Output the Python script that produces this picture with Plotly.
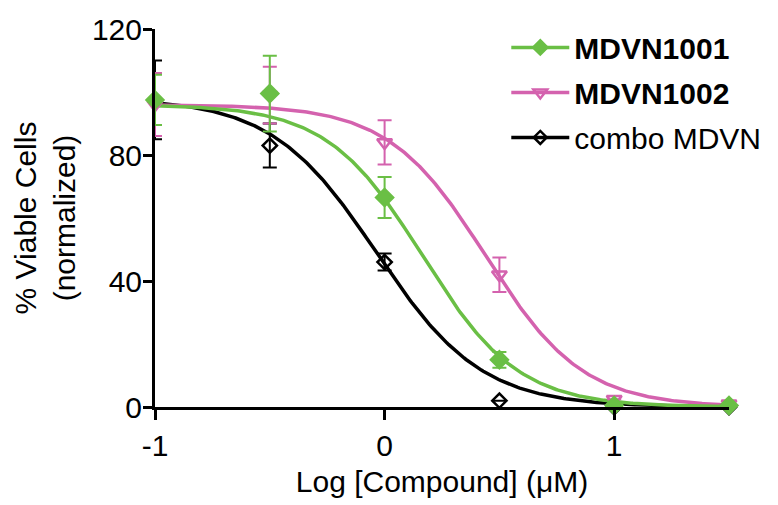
import numpy as np
import plotly.graph_objects as go

# ---- data ----
log_conc = [-1.0, -0.5, 0.0, 0.5, 1.0, 1.5]

mdvn1001 = [97.5, 99.5, 66.5, 15.0, 0.5, 0.5]
mdvn1001_err = [8.0, 12.0, 6.5, 2.5, 0.0, 0.0]

mdvn1002 = [96.0, 99.0, 84.0, 42.0, 2.5, 1.0]
mdvn1002_err = [10.0, 9.0, 7.0, 5.5, 0.0, 0.0]

combo = [97.5, 83.0, 46.0, 2.0, 0.0, 0.0]
combo_err = [12.5, 7.0, 2.7, 0.0, 0.0, 0.0]

# fitted 4PL parameters (top, bottom, logIC50, hill slope)
fit_1001 = dict(top=96.0, bottom=0.0, logic50=0.165, hill=2.08)
fit_1002 = dict(top=96.0, bottom=0.0, logic50=0.44, hill=2.05)
fit_combo = dict(top=98.0, bottom=0.0, logic50=-0.035, hill=1.9)

x_ticks = [-1, 0, 1]
y_ticks = [0, 40, 80, 120]

GREEN = "#6abf45"
PINK = "#d462ae"
BLACK = "#000000"


def curve(p, xs):
    return p["bottom"] + (p["top"] - p["bottom"]) / (1 + 10 ** ((xs - p["logic50"]) * p["hill"]))


xs = np.linspace(-1, 1.5, 300)

fig = go.Figure()

series = [
    ("combo MDVN", combo, combo_err, fit_combo, BLACK, "diamond-open", 11, 10),
    ("<b>MDVN1002</b>", mdvn1002, mdvn1002_err, fit_1002, PINK, "triangle-down-open", 13, 12),
    ("<b>MDVN1001</b>", mdvn1001, mdvn1001_err, fit_1001, GREEN, "diamond", 13, 11),
]

# curves
for name, ys, es, p, col, sym, sz, lsz in series:
    fig.add_trace(go.Scatter(x=xs, y=curve(p, xs), mode="lines",
                             line=dict(color=col, width=3.5),
                             showlegend=False, hoverinfo="skip", cliponaxis=False))

# points with error bars
for name, ys, es, p, col, sym, sz, lsz in series:
    fig.add_trace(go.Scatter(
        x=log_conc, y=ys, mode="markers",
        marker=dict(symbol=sym, size=sz, color=col, line=dict(color=col, width=2.5)),
        error_y=dict(type="data", array=es, visible=True, color=col, thickness=2, width=7),
        showlegend=False, cliponaxis=False))

# legend entries
legend_order = [series[2], series[1], series[0]]
for i, (name, ys, es, p, col, sym, sz, lsz) in enumerate(legend_order):
    fig.add_trace(go.Scatter(
        x=[None], y=[None], mode="lines+markers", name=name,
        line=dict(color=col, width=3.5),
        marker=dict(symbol=sym, size=lsz, color=col, line=dict(color=col, width=2.5)),
        legendgroup=f"g{i}", legendrank=i + 1))

fig.update_layout(
    width=778, height=505,
    margin=dict(l=155, r=44, t=25, b=97),
    plot_bgcolor="white", paper_bgcolor="white",
    font=dict(family="Liberation Sans, Arial, sans-serif", color="black", size=30),
    legend=dict(x=0.612, y=1.02, xanchor="left", yanchor="top",
                font=dict(size=30, color="black"), itemwidth=58,
                tracegroupgap=3, bgcolor="rgba(0,0,0,0)"),
    xaxis=dict(range=[-1, 1.5], tickvals=x_ticks, ticktext=[str(v) for v in x_ticks],
               showgrid=False, zeroline=False, showline=True, linecolor="black", linewidth=3,
               ticks="outside", ticklen=10, tickwidth=3, tickcolor="black",
               tickfont=dict(size=30),
               title=dict(text="Log [Compound] (μM)", font=dict(size=30), standoff=10)),
    yaxis=dict(range=[0, 120], tickvals=y_ticks, ticktext=[str(v) for v in y_ticks],
               showgrid=False, zeroline=False, showline=True, linecolor="black", linewidth=3,
               ticks="outside", ticklen=9, tickwidth=3, tickcolor="black",
               tickfont=dict(size=30), ticklabelstandoff=-5,
               title=dict(text="% Viable Cells<br>(normalized)", font=dict(size=30), standoff=8)),
)

fig.write_html("out.html", config={"displayModeBar": False},
               post_script="document.body.style.margin='0';document.body.style.overflow='hidden';")
